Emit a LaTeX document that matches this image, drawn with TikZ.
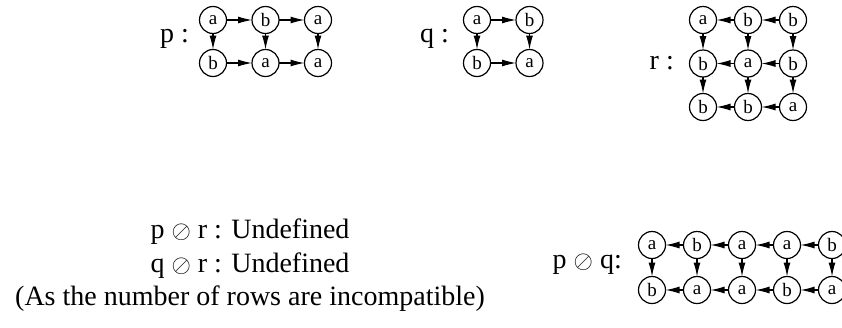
\documentclass[tikz,border=0pt]{standalone}
\usepackage{fontspec}
\setmainfont{Liberation Serif}
\usepackage{amsmath}
\usetikzlibrary{arrows.meta, positioning}

\begin{document}
\begin{tikzpicture}[
        x=1pt, y=-1pt,
        node distance=16pt and 25.5pt,
        cell/.style={circle, draw=black, line width=1.2pt, minimum size=27pt, inner sep=0pt, outer sep=0pt, font=\fontsize{19}{19}\selectfont},
        txt/.style={inner sep=0pt, font=\fontsize{28}{33.6}\selectfont},
        arrow/.style={-{Latex[length=14pt, width=7pt]}, line width=1.1pt}
    ]
    \useasboundingbox (0,0) rectangle (842,327);

    % p
    \node (plbl) [txt, anchor=base east] at (189,42) {p :};
    \node (p11) [cell] at (213,20) {a};
    \node (p12) [cell, right=25.5pt of p11] {b};
    \node (p13) [cell, right=25.5pt of p12] {a};
    \node (p21) [cell, below=of p11] {b};
    \node (p22) [cell, below=of p12] {a};
    \node (p23) [cell, below=of p13] {a};

    \draw [arrow] (p11) -- (p12);
    \draw [arrow] (p12) -- (p13);
    \draw [arrow] (p21) -- (p22);
    \draw [arrow] (p22) -- (p23);
    \draw [arrow] (p11) -- (p21);
    \draw [arrow] (p12) -- (p22);
    \draw [arrow] (p13) -- (p23);

    % q
    \node (qlbl) [txt, anchor=base east] at (449,42) {q :};
    \node (q11) [cell] at (477,20) {a};
    \node (q12) [cell, right=25.5pt of q11] {b};
    \node (q21) [cell, below=of q11] {b};
    \node (q22) [cell, below=of q12] {a};

    \draw [arrow] (q11) -- (q12);
    \draw [arrow] (q21) -- (q22);
    \draw [arrow] (q11) -- (q21);
    \draw [arrow] (q12) -- (q22);

    % r
    \node (rlbl) [txt, anchor=base east] at (674,69) {r :};
    \node (r11) [cell] at (703,20) {a};
    \node (r12) [cell, right=18pt of r11] {b};
    \node (r13) [cell, right=18pt of r12] {b};
    \node (r21) [cell, below=16.5pt of r11] {b};
    \node (r22) [cell, below=16.5pt of r12] {a};
    \node (r23) [cell, below=16.5pt of r13] {b};
    \node (r31) [cell, below=16.5pt of r21] {b};
    \node (r32) [cell, below=16.5pt of r22] {b};
    \node (r33) [cell, below=16.5pt of r23] {a};

    \draw [arrow] (r12) -- (r11);
    \draw [arrow] (r13) -- (r12);
    \draw [arrow] (r22) -- (r21);
    \draw [arrow] (r23) -- (r22);
    \draw [arrow] (r32) -- (r31);
    \draw [arrow] (r33) -- (r32);
    \draw [arrow] (r11) -- (r21);
    \draw [arrow] (r12) -- (r22);
    \draw [arrow] (r13) -- (r23);
    \draw [arrow] (r21) -- (r31);
    \draw [arrow] (r22) -- (r32);
    \draw [arrow] (r23) -- (r33);

    % undefined cases
    \node (undef) [txt, align=center] at (250,265.5) {p $\oslash$ r : Undefined\\ q $\oslash$ r : Undefined\\ (As the number of rows are incompatible)};

    % p oslash q
    \node (slbl) [txt, anchor=base east] at (622,268) {p $\oslash$ q:};
    \node (s11) [cell] at (652,245) {a};
    \node (s12) [cell, right=18pt of s11] {b};
    \node (s13) [cell, right=18pt of s12] {a};
    \node (s14) [cell, right=18pt of s13] {a};
    \node (s15) [cell, right=18pt of s14] {b};
    \node (s21) [cell, below=18pt of s11] {b};
    \node (s22) [cell, below=18pt of s12] {a};
    \node (s23) [cell, below=18pt of s13] {a};
    \node (s24) [cell, below=18pt of s14] {b};
    \node (s25) [cell, below=18pt of s15] {a};

    \draw [arrow] (s12) -- (s11);
    \draw [arrow] (s13) -- (s12);
    \draw [arrow] (s14) -- (s13);
    \draw [arrow] (s15) -- (s14);
    \draw [arrow] (s22) -- (s21);
    \draw [arrow] (s23) -- (s22);
    \draw [arrow] (s24) -- (s23);
    \draw [arrow] (s25) -- (s24);
    \draw [arrow] (s11) -- (s21);
    \draw [arrow] (s12) -- (s22);
    \draw [arrow] (s13) -- (s23);
    \draw [arrow] (s14) -- (s24);
    \draw [arrow] (s15) -- (s25);

    \end{tikzpicture}
\end{document}
